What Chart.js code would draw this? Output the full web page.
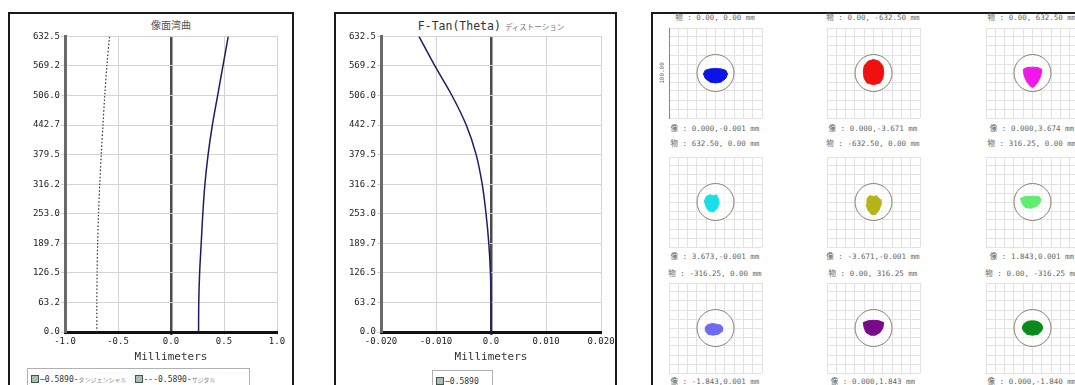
<!DOCTYPE html>
<html>
<head>
<meta charset="utf-8">
<script src="https://cdn.jsdelivr.net/npm/chart.js@4.4.1/dist/chart.umd.min.js"></script>
<style>
  body { margin: 0; width: 1075px; height: 385px; overflow: hidden; background: #fff; position: relative; }
  .frame { position: absolute; border: 2px solid #1a1a1a; box-sizing: border-box; }
  canvas { position: absolute; }
  .title { position: absolute; text-align: center; white-space: nowrap; }
  .legend { position: absolute; border: 1px solid #b0b0b0; box-sizing: border-box; background: #fff;
            padding: 2px 0 0 3px; white-space: nowrap; line-height: 11px; }
  .legend .mono { font: 8px 'DejaVu Sans Mono', monospace; color: #333; }
  .legend .jp { font: 6px 'Noto Sans CJK JP', sans-serif; color: #888; }
  .chk { display: inline-block; width: 6px; height: 6px; border: 1px solid #3d5a4c; background: #a9bdb2;
         vertical-align: -1px; margin-right: 1px; }
  .cell-label { position: absolute; width: 120px; text-align: center; white-space: nowrap;
                font: 7.5px 'DejaVu Sans Mono', 'Noto Sans CJK JP', monospace; color: #666; line-height: 10px; }
</style>
</head>
<body>

<!-- panel 1: field curvature -->
<div class="frame" style="left:8px;top:12px;width:286px;height:400px;"></div>
<div class="title" style="left:65px;top:19px;width:212px;font:10px 'Noto Sans CJK JP',sans-serif;color:#555;line-height:12px;">像面湾曲</div>
<canvas id="curvature" width="280" height="337" style="left:10px;top:30px;"></canvas>
<div class="legend" style="left:27px;top:368px;width:223px;height:30px;">
  <span class="chk"></span><span class="mono">—0.5890-</span><span class="jp">タンジェンシャル</span>&nbsp;
  <span class="chk"></span><span class="mono">---0.5890-</span><span class="jp">サジタル</span>
</div>

<!-- panel 2: distortion -->
<div class="frame" style="left:334px;top:12px;width:283px;height:400px;"></div>
<div class="title" style="left:381px;top:18px;width:220px;line-height:13px;">
  <span style="font:11.5px 'DejaVu Sans Mono',monospace;color:#333;">F-Tan(Theta)</span>
  <span style="font:7.5px 'Noto Sans CJK JP',sans-serif;color:#777;">ディストーション</span>
</div>
<canvas id="distortion" width="280" height="337" style="left:336px;top:30px;"></canvas>
<div class="legend" style="left:432px;top:370px;width:61px;height:30px;">
  <span class="chk"></span><span class="mono">—0.5890</span>
</div>

<!-- panel 3: spot diagrams -->
<div class="frame" style="left:651px;top:12px;width:450px;height:400px;border-right:none;border-bottom:none;"></div>
<div id="spots"></div>

<script>
// field heights (vertical axis of both ray plots)
const fieldHeights = [0, 63.25, 126.5, 189.75, 253, 316.25, 379.5, 442.75, 506, 569.25, 632.5];
const heightTickLabels = ['0.0', '63.2', '126.5', '189.7', '253.0', '316.2', '379.5', '442.7', '506.0', '569.2', '632.5'];

// field curvature, mm
const tangential = [0.26, 0.262, 0.27, 0.285, 0.30, 0.32, 0.35, 0.39, 0.44, 0.49, 0.54];
const sagittal = [-0.70, -0.70, -0.697, -0.692, -0.684, -0.672, -0.658, -0.642, -0.625, -0.605, -0.58];
const curvatureTicks = [-1, -0.5, 0, 0.5, 1];
const curvatureTickLabels = ['-1.0', '-0.5', '0.0', '0.5', '1.0'];

// f-tan(theta) distortion, mm
const distortion = [0, 0, -0.0001, -0.0004, -0.0009, -0.0016, -0.0027, -0.0045, -0.0071, -0.0102, -0.0131];
const distortionTicks = [-0.02, -0.01, 0, 0.01, 0.02];
const distortionTickLabels = ['-0.020', '-0.010', '0.0', '0.010', '0.020'];

// spot diagrams, row by row
const objectLabels = [
  '物 : 0.00, 0.00 mm', '物 : 0.00, -632.50 mm', '物 : 0.00, 632.50 mm',
  '物 : 632.50, 0.00 mm', '物 : -632.50, 0.00 mm', '物 : 316.25, 0.00 mm',
  '物 : -316.25, 0.00 mm', '物 : 0.00, 316.25 mm', '物 : 0.00, -316.25 mm'
];
const imageLabels = [
  '像 : 0.000,-0.001 mm', '像 : 0.000,-3.671 mm', '像 : 0.000,3.674 mm',
  '像 : 3.673,-0.001 mm', '像 : -3.671,-0.001 mm', '像 : 1.843,0.001 mm',
  '像 : -1.843,0.001 mm', '像 : 0.000,1.843 mm', '像 : 0.000,-1.840 mm'
];
const spotColors = ['#0a14e6', '#f01010', '#f018e8', '#18e0e8', '#b4b414', '#60ee70', '#6c6cf0', '#7a0a8c', '#0a8a1a'];
// spot outlines in micrometres around the chief ray
const spotShapes = [
  [[-13,-1],[-11,3],[-6,4.5],[0,5],[6,4.5],[11,3],[13,-1],[11,-6],[6,-10],[0,-11],[-6,-10],[-11,-6],[-13,-1]],
  [[0,15],[6,13],[10,8],[11,1],[10,-6],[7,-11],[0,-13],[-7,-11],[-10,-6],[-11,1],[-10,8],[-6,13],[0,15]],
  [[-10,4],[-6,6],[0,6.5],[6,6],[10,4],[9,-3],[6,-10],[2,-15],[0,-16],[-2,-15],[-6,-10],[-9,-3],[-10,4]],
  [[-12,1],[-10,6],[-6,8],[-2,7],[1,8],[3,4],[4,-1],[2,-7],[-2,-11],[-7,-10],[-10,-6],[-12,1]],
  [[-7,4],[-4,7],[0,6],[3,7],[7,3],[8,-3],[6,-9],[2,-14],[-2,-14],[-6,-9],[-8,-3],[-7,4]],
  [[-13,4],[-8,6],[0,6.5],[7,6],[9,4],[8,-1],[4,-5],[-2,-7],[-8,-6],[-11,-2],[-13,4]],
  [[-11,1],[-8,4],[-3,5],[2,4],[6,3],[8,0],[7,-4],[3,-7],[-3,-8],[-8,-7],[-11,-3],[-11,1]],
  [[-11,6],[-6,8],[0,8.5],[6,8],[11,6],[10,0],[7,-5],[2,-8],[-3,-8],[-8,-5],[-10,0],[-11,6]],
  [[-11,1],[-9,5],[-5,7.5],[0,8],[5,7.5],[9,5],[11,1],[10,-3],[6,-7],[0,-8],[-6,-7],[-10,-3],[-11,1]]
];
const spotGridTicks = [-50, -40, -30, -20, -10, 0, 10, 20, 30, 40, 50];
const spotBoxLabel = '100.00';

const tickFont = { family: 'DejaVu Sans Mono', size: 9 };

function rayChart(id, xTicks, xLabels, yWidth, padRight, datasets) {
  new Chart(document.getElementById(id), {
    type: 'line',
    data: { datasets: datasets },
    options: {
      responsive: false,
      animation: false,
      layout: { autoPadding: false, padding: { left: 0, right: padRight, top: 5, bottom: 0 } },
      plugins: { legend: { display: false }, tooltip: { enabled: false } },
      elements: { point: { radius: 0 } },
      scales: {
        x: {
          type: 'linear',
          min: xTicks[0],
          max: xTicks[xTicks.length - 1],
          afterBuildTicks: (s) => { s.ticks = xTicks.map(v => ({ value: v })); },
          afterFit: (s) => { s.height = 35; },
          ticks: { callback: (v, i) => xLabels[i], font: tickFont, color: '#222', maxRotation: 0, padding: 1 },
          grid: {
            color: (c) => (c.tick && c.tick.value === 0 ? '#4a4a4a' : '#d4d4d4'),
            lineWidth: (c) => (c.tick && c.tick.value === 0 ? 2.5 : 1),
            tickLength: 3
          },
          border: { width: 3, color: '#111' },
          title: {
            display: true, text: 'Millimeters', color: '#333',
            font: { family: 'DejaVu Sans Mono', size: 11 }, padding: { top: 0, bottom: 3 }
          }
        },
        y: {
          type: 'linear',
          min: 0,
          max: 632.5,
          afterBuildTicks: (s) => { s.ticks = fieldHeights.map(v => ({ value: v })); },
          afterFit: (s) => { s.width = yWidth; },
          ticks: { callback: (v, i) => heightTickLabels[i], font: tickFont, color: '#222', padding: 1 },
          grid: { color: '#d4d4d4', tickLength: 4 },
          border: { width: 3, color: '#6a6a6a' }
        }
      }
    }
  });
}

rayChart('curvature', curvatureTicks, curvatureTickLabels, 55, 13, [
  {
    label: '0.5890-タンジェンシャル',
    data: fieldHeights.map((h, i) => ({ x: tangential[i], y: h })),
    borderColor: '#1c1c6a', borderWidth: 1.5, tension: 0.3
  },
  {
    label: '0.5890-サジタル',
    data: fieldHeights.map((h, i) => ({ x: sagittal[i], y: h })),
    borderColor: '#333', borderWidth: 1.2, borderDash: [1.5, 2], tension: 0.3
  }
]);

rayChart('distortion', distortionTicks, distortionTickLabels, 45, 15, [
  {
    label: '0.5890',
    data: fieldHeights.map((h, i) => ({ x: distortion[i], y: h })),
    borderColor: '#1c1c6a', borderWidth: 1.5, tension: 0.3
  }
]);

// spot diagram grid
const colCenters = [715, 873, 1032];
const gridTops = [28, 157, 283];
const objLabelY = [13, 139, 269];
const imgLabelY = [124, 252, 377];
const gridW = 93, gridH = 90;
const holder = document.getElementById('spots');

spotShapes.forEach((shape, i) => {
  const row = Math.floor(i / 3), col = i % 3;
  const axisW = i === 0 ? 10 : 0;
  const gridLeft = colCenters[col] - gridW / 2;

  const cv = document.createElement('canvas');
  cv.width = gridW + 2 + axisW;
  cv.height = gridH + 2;
  cv.style.left = (gridLeft - 1 - axisW) + 'px';
  cv.style.top = (gridTops[row] - 1) + 'px';
  holder.appendChild(cv);

  const top = document.createElement('div');
  top.className = 'cell-label';
  top.style.left = (colCenters[col] - 60) + 'px';
  top.style.top = objLabelY[row] + 'px';
  top.textContent = objectLabels[i];
  holder.appendChild(top);

  const bottom = document.createElement('div');
  bottom.className = 'cell-label';
  bottom.style.left = (colCenters[col] - 60) + 'px';
  bottom.style.top = imgLabelY[row] + 'px';
  bottom.textContent = imageLabels[i];
  holder.appendChild(bottom);

  new Chart(cv, {
    type: 'line',
    data: {
      datasets: [
        {
          data: shape.map(p => ({ x: p[0], y: p[1] })),
          borderColor: spotColors[i], backgroundColor: spotColors[i],
          borderWidth: 1, pointRadius: 0, fill: 'shape', order: 0
        },
        {
          data: [{ x: 0, y: 0 }],
          showLine: false, pointRadius: 18.5, pointStyle: 'circle',
          pointBorderColor: '#8a8070', pointBackgroundColor: 'rgba(255,255,255,0.55)',
          pointBorderWidth: 1, order: 1
        }
      ]
    },
    options: {
      responsive: false,
      animation: false,
      layout: { autoPadding: false, padding: 1 },
      plugins: { legend: { display: false }, tooltip: { enabled: false } },
      scales: {
        x: {
          type: 'linear', min: -50, max: 50,
          afterBuildTicks: (s) => { s.ticks = spotGridTicks.map(v => ({ value: v })); },
          afterFit: (s) => { s.height = 0; },
          ticks: { display: false },
          grid: { color: '#e2e2e2', drawTicks: false },
          border: { display: false }
        },
        y: {
          type: 'linear', min: -50, max: 50,
          afterBuildTicks: (s) => { s.ticks = spotGridTicks.map(v => ({ value: v })); },
          afterFit: (s) => { s.width = axisW; },
          ticks: { display: false },
          grid: { color: '#e2e2e2', drawTicks: false },
          border: { display: i === 0, color: '#888', width: 1 },
          title: {
            display: i === 0, text: spotBoxLabel, color: '#666',
            font: { family: 'DejaVu Sans Mono', size: 6 }, padding: 0
          }
        }
      }
    }
  });
});
</script>
</body>
</html>
